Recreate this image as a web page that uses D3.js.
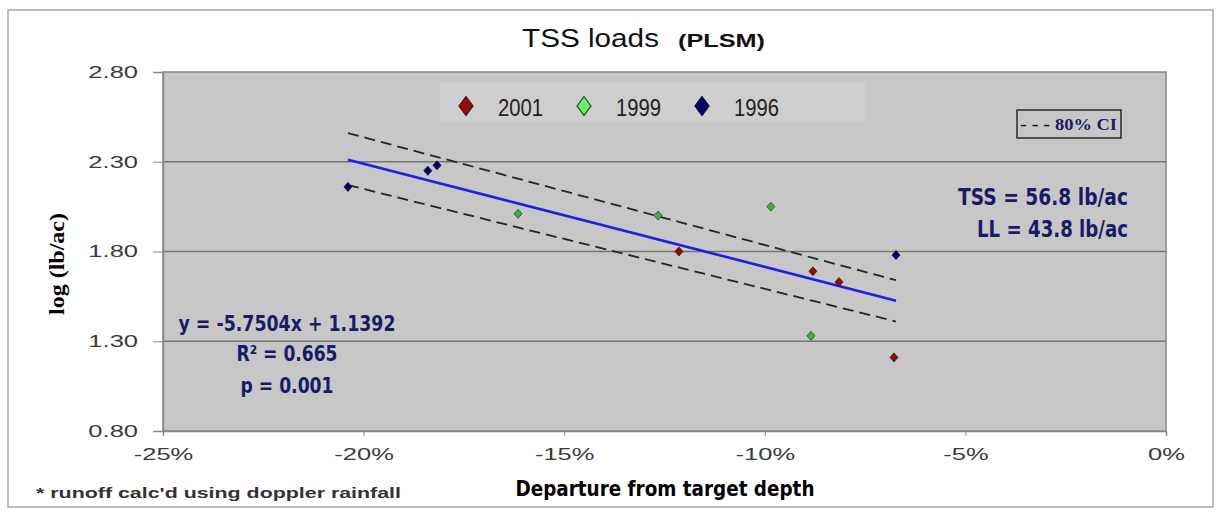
<!DOCTYPE html>
<html>
<head>
<meta charset="utf-8">
<script src="https://cdn.jsdelivr.net/npm/d3@7"></script>
<style>
    body { margin: 0; background: #fff; }
    #chart { width: 1222px; height: 512px; }
    text { font-family: Arial, "Liberation Sans", sans-serif; }
    .narrow { font-family: "Liberation Sans Narrow", "Arial Narrow", "DejaVu Sans Condensed", Arial, sans-serif; font-weight: bold; }
    .serif { font-family: "Liberation Serif", "Times New Roman", serif; font-weight: bold; }
</style>
</head>
<body>
<div id="chart"></div>
<script>

// series (x = departure in %, y = log lb/ac)
const years = ["2001", "1999", "1996"];
const dep2001 = [-12.14, -8.80, -8.15, -6.78];
const load2001 = [1.80, 1.69, 1.63, 1.21];
const dep1999 = [-16.15, -12.66, -9.85, -8.85];
const load1999 = [2.01, 2.00, 2.05, 1.33];
const dep1996 = [-20.39, -18.40, -18.17, -6.73];
const load1996 = [2.16, 2.25, 2.28, 1.78];

const xTicks = [-25, -20, -15, -10, -5, 0];
const yTicks = [0.80, 1.30, 1.80, 2.30, 2.80];

// trend line y = slope * x + intercept (x as a fraction), drawn over the data range
const slope = -5.7504;
const intercept = 1.1392;
const fitRange = [-20.39, -6.73];
const ciUpper = [2.46, 1.64];
const ciLower = [2.17, 1.41];

const eqLines = ["y = -5.7504x + 1.1392", "R² = 0.665", "p = 0.001"];
const loadLines = ["TSS = 56.8 lb/ac", "LL = 43.8 lb/ac"];

class TssChart {

    constructor(parentElement) {
        this.parentElement = parentElement;
        this.initVis();
    }

    initVis() {
        let vis = this;

        vis.width = 1222;
        vis.height = 512;
        vis.plot = { left: 163, right: 1166, top: 72, bottom: 431 };

        vis.svg = d3.select("#" + vis.parentElement).append("svg")
            .attr("width", vis.width)
            .attr("height", vis.height);

        // outer chart frame
        vis.svg.append("rect")
            .attr("x", 8).attr("y", 10)
            .attr("width", 1205).attr("height", 497)
            .attr("fill", "#fff")
            .attr("stroke", "#a8a8a8")
            .attr("stroke-width", 1.5);

        vis.x = d3.scaleLinear().domain([-25, 0]).range([vis.plot.left, vis.plot.right]);
        vis.y = d3.scaleLinear().domain([0.80, 2.80]).range([vis.plot.bottom, vis.plot.top]);

        vis.colors = { "2001": "#8b1010", "1999": "#66ee66", "1996": "#000066" };
        vis.strokes = { "2001": "#5a0a0a", "1999": "#1d4d1d", "1996": "#000040" };

        vis.series = [
            { year: "2001", xs: dep2001, ys: load2001 },
            { year: "1999", xs: dep1999, ys: load1999 },
            { year: "1996", xs: dep1996, ys: load1996 }
        ];

        vis.updateVis();
    }

    stretch(sel, factor) {
        sel.each(function () {
            let t = d3.select(this);
            t.attr("textLength", this.getComputedTextLength() * factor)
                .attr("lengthAdjust", "spacingAndGlyphs");
        });
    }

    diamond(w, h) {
        return "M0," + (-h) + "L" + w + ",0L0," + h + "L" + (-w) + ",0Z";
    }

    updateVis() {
        let vis = this;
        let p = vis.plot;

        // plot background
        vis.svg.append("rect")
            .attr("x", p.left).attr("y", p.top)
            .attr("width", p.right - p.left).attr("height", p.bottom - p.top)
            .attr("fill", "#c7c7c7")
            .attr("stroke", "#888")
            .attr("stroke-width", 1.5);

        // lighter band behind the legend
        vis.svg.append("rect")
            .attr("x", 440).attr("y", 83)
            .attr("width", 425).attr("height", 39)
            .attr("fill", "#cecece");

        // gridlines
        vis.svg.append("g").selectAll("line")
            .data(yTicks.filter(d => d > 0.8 && d < 2.8))
            .enter().append("line")
            .attr("x1", p.left).attr("x2", p.right)
            .attr("y1", d => vis.y(d)).attr("y2", d => vis.y(d))
            .attr("stroke", "#747474")
            .attr("stroke-width", 1.3);

        // axes
        let xAxis = vis.svg.append("g")
            .attr("transform", "translate(0," + p.bottom + ")")
            .call(d3.axisBottom(vis.x).tickValues(xTicks).tickFormat(d => d + "%").tickSize(5).tickPadding(12));
        let yAxis = vis.svg.append("g")
            .attr("transform", "translate(" + p.left + ",0)")
            .call(d3.axisLeft(vis.y).tickValues(yTicks).tickFormat(d3.format(".2f")).tickSize(10).tickPadding(15));

        [xAxis, yAxis].forEach(ax => {
            ax.select(".domain").attr("stroke", "#888").attr("stroke-width", 1.5);
            ax.selectAll(".tick line").attr("stroke", "#888");
            ax.selectAll(".tick text")
                .attr("font-size", 17)
                .attr("fill", "#3a3a3a")
                .style("font-family", "Arial, 'Liberation Sans', sans-serif");
            vis.stretch(ax.selectAll(".tick text"), 1.5);
        });

        // CI dashed lines and the fitted line
        let line = d3.line().x(d => vis.x(d[0])).y(d => vis.y(d[1]));
        [ciUpper, ciLower].forEach(ci => {
            vis.svg.append("path")
                .datum(fitRange.map((d, i) => [d, ci[i]]))
                .attr("d", line)
                .attr("fill", "none")
                .attr("stroke", "#222233")
                .attr("stroke-width", 1.8)
                .attr("stroke-dasharray", "11,6");
        });
        vis.svg.append("path")
            .datum(fitRange.map(d => [d, slope * d / 100 + intercept]))
            .attr("d", line)
            .attr("fill", "none")
            .attr("stroke", "#1e1ee6")
            .attr("stroke-width", 2.6);

        // points
        vis.series.forEach(s => {
            vis.svg.append("g").selectAll("path")
                .data(s.xs.map((d, i) => [d, s.ys[i]]))
                .enter().append("path")
                .attr("d", vis.diamond(4, 4.5))
                .attr("transform", d => "translate(" + vis.x(d[0]) + "," + vis.y(d[1]) + ")")
                .attr("fill", s.year === "1999" ? "#3cb43c" : vis.colors[s.year])
                .attr("stroke", vis.strokes[s.year])
                .attr("stroke-width", 0.8);
        });

        // legend
        let legendX = [466, 584, 702];
        let legend = vis.svg.append("g").selectAll("g")
            .data(years)
            .enter().append("g")
            .attr("transform", (d, i) => "translate(" + legendX[i] + ",106)");
        legend.append("path")
            .attr("d", vis.diamond(7, 9.5))
            .attr("fill", d => vis.colors[d])
            .attr("stroke", d => vis.strokes[d])
            .attr("stroke-width", 1.2);
        legend.append("text")
            .attr("x", 32).attr("y", 10)
            .attr("font-size", 23)
            .attr("fill", "#222")
            .attr("textLength", 45)
            .attr("lengthAdjust", "spacingAndGlyphs")
            .text(d => d);

        // CI legend box
        vis.svg.append("rect")
            .attr("x", 1017).attr("y", 110)
            .attr("width", 104).attr("height", 28)
            .attr("fill", "none")
            .attr("stroke", "#111")
            .attr("stroke-width", 1.3);
        vis.svg.append("text")
            .attr("class", "serif")
            .attr("x", 1020).attr("y", 130)
            .attr("font-size", 16)
            .attr("fill", "#111")
            .attr("textLength", 30)
            .attr("lengthAdjust", "spacingAndGlyphs")
            .text("- - -");
        vis.svg.append("text")
            .attr("class", "serif")
            .attr("x", 1055).attr("y", 130)
            .attr("font-size", 16)
            .attr("fill", "#1a1a66")
            .attr("textLength", 62)
            .attr("lengthAdjust", "spacingAndGlyphs")
            .text("80% CI");

        // load annotations
        vis.svg.selectAll(".loadText")
            .data(loadLines)
            .enter().append("text")
            .attr("class", "loadText narrow")
            .attr("x", 1128)
            .attr("y", (d, i) => 205 + i * 32)
            .attr("text-anchor", "end")
            .attr("font-size", 23)
            .attr("fill", "#1a1a66")
            .attr("textLength", (d, i) => [170, 151][i])
            .attr("lengthAdjust", "spacingAndGlyphs")
            .text(d => d);

        // regression text
        vis.svg.selectAll(".eqText")
            .data(eqLines)
            .enter().append("text")
            .attr("class", "eqText narrow")
            .attr("x", 287)
            .attr("y", (d, i) => [331, 361, 393][i])
            .attr("text-anchor", "middle")
            .attr("font-size", 22)
            .attr("fill", "#1a1a66")
            .attr("textLength", (d, i) => [217, 101, 93][i])
            .attr("lengthAdjust", "spacingAndGlyphs")
            .text(d => d);

        // title
        vis.svg.append("text")
            .attr("x", 522).attr("y", 47)
            .attr("font-size", 25)
            .attr("fill", "#111")
            .attr("textLength", 137)
            .attr("lengthAdjust", "spacingAndGlyphs")
            .text("TSS loads");
        vis.svg.append("text")
            .attr("x", 678).attr("y", 47)
            .attr("font-size", 19)
            .attr("font-weight", "bold")
            .attr("fill", "#111")
            .attr("textLength", 87)
            .attr("lengthAdjust", "spacingAndGlyphs")
            .text("(PLSM)");

        // axis titles
        vis.svg.append("text")
            .attr("class", "narrow")
            .attr("x", 665).attr("y", 496)
            .attr("text-anchor", "middle")
            .attr("font-size", 22)
            .attr("fill", "#000")
            .attr("textLength", 299)
            .attr("lengthAdjust", "spacingAndGlyphs")
            .text("Departure  from target depth");
        vis.svg.append("text")
            .attr("class", "serif")
            .attr("transform", "translate(64,264) rotate(-90)")
            .attr("text-anchor", "middle")
            .attr("font-size", 20)
            .attr("fill", "#000")
            .attr("textLength", 102)
            .attr("lengthAdjust", "spacingAndGlyphs")
            .text("log (lb/ac)");

        // footnote
        vis.svg.append("text")
            .attr("x", 36).attr("y", 498)
            .attr("font-size", 15)
            .attr("font-weight", "bold")
            .attr("fill", "#333")
            .attr("textLength", 365)
            .attr("lengthAdjust", "spacingAndGlyphs")
            .text("* runoff calc'd using doppler rainfall");
    }
}

new TssChart("chart");
</script>
</body>
</html>
